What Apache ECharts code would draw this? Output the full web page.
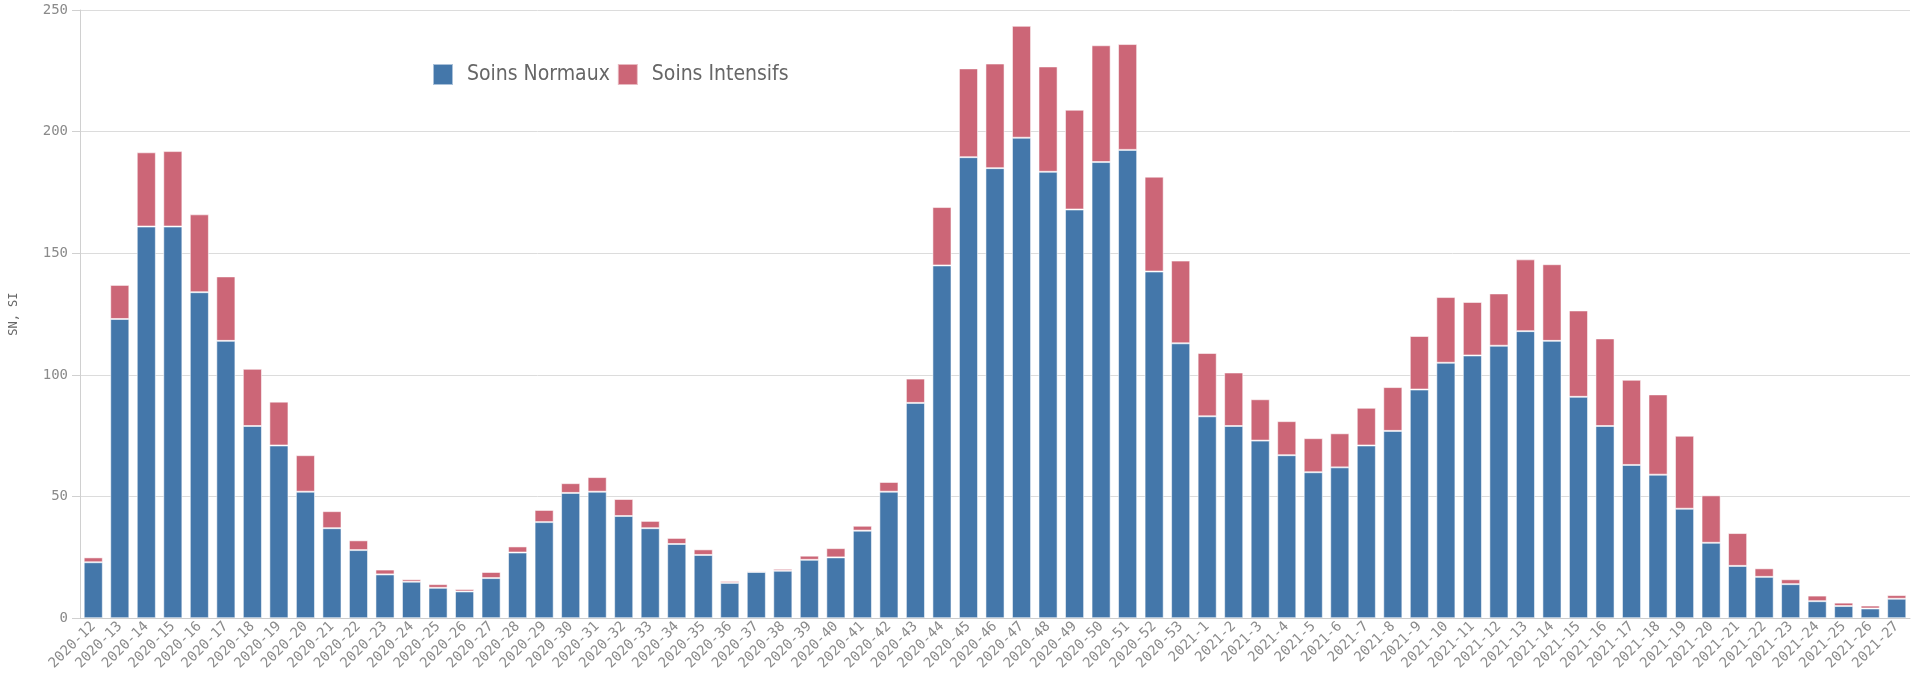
<!DOCTYPE html>
<html>
<head>
<meta charset="utf-8">
<script src="https://cdn.jsdelivr.net/npm/echarts@6/dist/echarts.min.js"></script>
<style>
html,body{margin:0;padding:0;background:#fff;}
#chart{width:1913px;height:673px;}
</style>
</head>
<body>
<div id="chart"></div>
<script>
const categories = [
  "2020-12","2020-13","2020-14","2020-15","2020-16","2020-17","2020-18","2020-19","2020-20","2020-21",
  "2020-22","2020-23","2020-24","2020-25","2020-26","2020-27","2020-28","2020-29","2020-30","2020-31",
  "2020-32","2020-33","2020-34","2020-35","2020-36","2020-37","2020-38","2020-39","2020-40","2020-41",
  "2020-42","2020-43","2020-44","2020-45","2020-46","2020-47","2020-48","2020-49","2020-50","2020-51",
  "2020-52","2020-53",
  "2021-1","2021-2","2021-3","2021-4","2021-5","2021-6","2021-7","2021-8","2021-9","2021-10",
  "2021-11","2021-12","2021-13","2021-14","2021-15","2021-16","2021-17","2021-18","2021-19","2021-20",
  "2021-21","2021-22","2021-23","2021-24","2021-25","2021-26","2021-27"
];
const soinsNormaux = [
  23,123,161,161,134,114,79,71,52,37,
  28,18,15,12.5,11,16.5,27,39.5,51.5,52,
  42,37,30.5,26,14.5,19,19.5,24,25,36,
  52,88.5,145,189.5,185,197.5,183.5,168,187.5,192.5,
  142.5,113,
  83,79,73,67,60,62,71,77,94,105,
  108,112,118,114,91,79,63,59,45,31,
  21.5,17,14,7,5,4,8
];
const soinsIntensifs = [
  2,14,30.5,31,32,26.5,23.5,18,15,7,
  4,2,1,1.5,1,2.5,2.5,5,4,6,
  7,3,2.5,2.3,0.8,0.5,0.8,1.7,3.8,2,
  4,10,24,36.5,43,46,43.3,41,48,43.5,
  39,34,
  26,22,17,14,14,14,15.5,18,22,27,
  22,21.5,29.5,31.5,35.5,36,35,33,30,19.5,
  13.5,3.5,2,2.3,1.4,1.2,1.5
];
const seriesNames = ["Soins Normaux","Soins Intensifs"];
const yTicks = [0,50,100,150,200,250];

const chart = echarts.init(document.getElementById('chart'));
const mono = "'DejaVu Sans Mono', monospace";
const barStyle = (c) => ({color:c, borderColor:'rgba(255,255,255,0.55)', borderWidth:1});
chart.setOption({
  animation:false,
  backgroundColor:'#fff',
  grid:{left:80,right:3,top:10,bottom:46,containLabel:false},
  legend:{
    left:427, top:58,
    itemWidth:20, itemHeight:21, itemGap:7,
    icon:'rect',
    data:seriesNames,
    textStyle:{fontFamily:"'Liberation Sans Narrow','DejaVu Sans Condensed',sans-serif",fontSize:21,color:'#666',padding:[0,0,0,9]}
  },
  xAxis:{
    type:'category',
    data:categories,
    axisLine:{lineStyle:{color:'#ccc',width:1}},
    axisTick:{show:false},
    axisLabel:{rotate:45,interval:0,fontFamily:mono,fontSize:14,color:'#8a8a8a',margin:6}
  },
  yAxis:{
    type:'value',
    min:yTicks[0], max:yTicks[yTicks.length-1], interval:50,
    name:'SN, SI',
    nameLocation:'middle',
    nameGap:60,
    nameTextStyle:{fontFamily:mono,fontSize:12,color:'#666'},
    axisLine:{show:true,lineStyle:{color:'#d0d0d0'}},
    axisTick:{show:true,length:8,lineStyle:{color:'#d0d0d0'}},
    axisLabel:{fontFamily:mono,fontSize:14,color:'#8a8a8a',margin:12},
    splitLine:{lineStyle:{color:'#dcdcdc',width:1}}
  },
  series:[
    {name:seriesNames[0],type:'bar',stack:'t',data:soinsNormaux,barCategoryGap:'28%',itemStyle:barStyle('#4477aa')},
    {name:seriesNames[1],type:'bar',stack:'t',data:soinsIntensifs,barCategoryGap:'28%',itemStyle:barStyle('#cc6677')}
  ]
});
</script>
</body>
</html>
